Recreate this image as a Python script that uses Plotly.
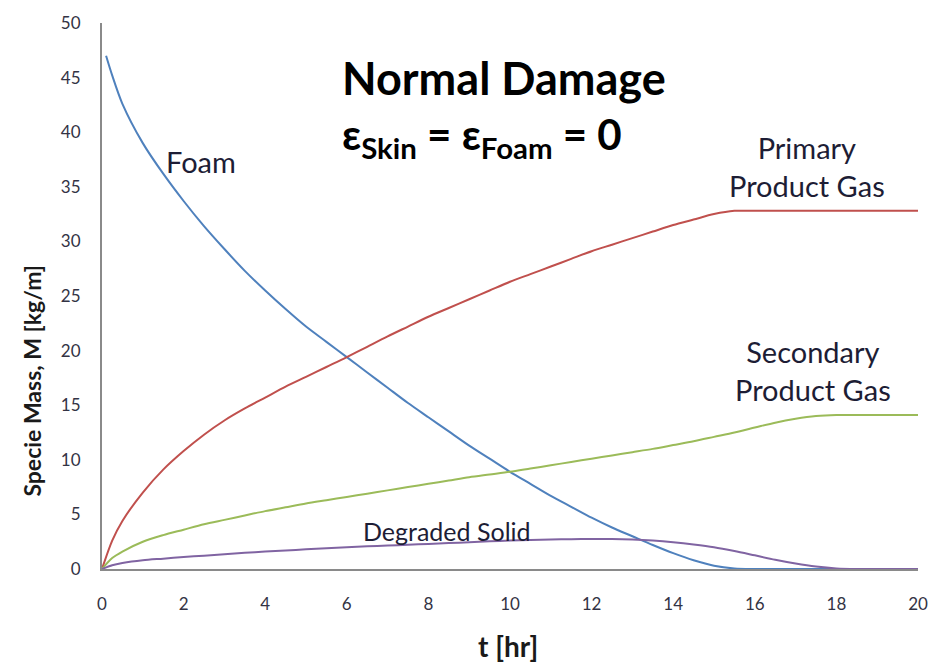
import plotly.graph_objects as go

# Time grid [hr] and species mass per unit length [kg/m]
t_foam = [0.1, 0.25, 0.5, 1, 1.5, 2, 2.5, 3, 3.5, 4, 4.5, 5, 5.5, 6, 6.5, 7, 7.5, 8, 8.5, 9, 9.5,
          10, 10.5, 11, 11.5, 12, 12.5, 13, 13.5, 14, 14.5, 15, 15.5, 16, 17, 18, 19, 20]
m_foam = [47.0, 45.2, 42.6, 39.0, 36.2, 33.7, 31.4, 29.3, 27.3, 25.5, 23.8, 22.2, 20.8, 19.4, 18.0,
          16.6, 15.2, 13.9, 12.6, 11.3, 10.1, 8.9, 7.8, 6.7, 5.7, 4.7, 3.8, 3.0, 2.2, 1.45, 0.8,
          0.3, 0.05, 0.0, 0.0, 0.0, 0.0, 0.0]

t_gas = [0, 0.25, 0.5, 1, 1.5, 2, 2.5, 3, 3.5, 4, 4.5, 5, 5.5, 6, 6.5, 7, 7.5, 8, 8.5, 9, 9.5,
         10, 10.5, 11, 11.5, 12, 12.5, 13, 13.5, 14, 14.5, 15, 15.5, 16, 16.5, 17, 17.5, 18,
         18.5, 19, 20]
m_primary = [0, 2.6, 4.4, 7.0, 9.1, 10.8, 12.3, 13.6, 14.7, 15.7, 16.7, 17.6, 18.5, 19.4, 20.35,
             21.3, 22.2, 23.1, 23.9, 24.7, 25.5, 26.3, 27.0, 27.7, 28.4, 29.1, 29.7, 30.3, 30.9,
             31.5, 32.0, 32.5, 32.8, 32.8, 32.8, 32.8, 32.8, 32.8, 32.8, 32.8, 32.8]
m_secondary = [0, 1.0, 1.6, 2.5, 3.1, 3.6, 4.1, 4.5, 4.9, 5.3, 5.65, 6.0, 6.3, 6.6, 6.9, 7.2,
               7.5, 7.8, 8.1, 8.4, 8.65, 8.9, 9.2, 9.5, 9.8, 10.1, 10.4, 10.7, 11.0, 11.35, 11.7,
               12.1, 12.5, 12.95, 13.4, 13.75, 14.0, 14.1, 14.1, 14.1, 14.1]
m_degraded = [0, 0.35, 0.55, 0.8, 0.95, 1.1, 1.22, 1.35, 1.48, 1.6, 1.7, 1.8, 1.9, 2.0, 2.08,
              2.15, 2.22, 2.3, 2.38, 2.45, 2.53, 2.6, 2.65, 2.7, 2.73, 2.75, 2.75, 2.7, 2.6,
              2.45, 2.25, 2.0, 1.65, 1.25, 0.85, 0.5, 0.22, 0.05, 0.0, 0.0, 0.0]

x_ticks = list(range(0, 21, 2))
y_ticks = list(range(0, 51, 5))

series = [
    (t_foam, m_foam, "#4f81bd"),
    (t_gas, m_primary, "#c0504d"),
    (t_gas, m_secondary, "#9bbb59"),
    (t_gas, m_degraded, "#8064a2"),
]

fig = go.Figure()
for tx, my, color in series:
    fig.add_trace(go.Scatter(x=tx, y=my, mode="lines",
                             line=dict(color=color, width=2, shape="spline", smoothing=0.8),
                             showlegend=False, hoverinfo="skip"))

label_font = dict(family="Lato", size=29, color="#1d1d35")
fig.add_annotation(x=2.42, y=37.3, text="Foam", showarrow=False, font=label_font)
fig.add_annotation(x=17.28, y=36.9, text="Primary<br>Product Gas", showarrow=False, font=label_font)
fig.add_annotation(x=17.43, y=18.2, text="Secondary<br>Product Gas", showarrow=False, font=label_font)
fig.add_annotation(x=8.45, y=3.5, text="Degraded Solid", showarrow=False,
                   font=dict(family="Lato", size=25, color="#1d1d35"))

fig.add_annotation(x=5.83, y=45.0, xanchor="left", text="<b>Normal Damage</b>", showarrow=False,
                   font=dict(family="Lato", size=45, color="black"))
fig.add_annotation(x=5.83, y=39.6, xanchor="left",
                   text="<b>ε<sub>Skin</sub> = ε<sub>Foam</sub> = 0</b>", showarrow=False,
                   font=dict(family="Lato", size=42, color="black"))

fig.add_annotation(xref="paper", yref="paper", x=-0.0858, y=0.345, textangle=-90,
                   xanchor="center", yanchor="middle",
                   text="<b>Specie Mass, M [kg/m]</b>", showarrow=False,
                   font=dict(family="Lato", size=23, color="#1a1a1a"))
fig.add_annotation(xref="paper", yref="paper", x=0.4975, y=-0.1405,
                   xanchor="center", yanchor="middle",
                   text="<b>t [hr]</b>", showarrow=False,
                   font=dict(family="Lato", size=28, color="#1a1a1a"))

tick_font = dict(family="Lato", size=17, color="#333344")
fig.update_xaxes(range=[0, 20], tickvals=x_ticks, showgrid=False, zeroline=False,
                 showline=True, linecolor="#8a8a8a", linewidth=2,
                 ticks="outside", ticklen=19, tickcolor="rgba(0,0,0,0)",
                 tickfont=tick_font)
fig.update_yaxes(range=[0, 50], tickvals=y_ticks, showgrid=False, zeroline=False,
                 showline=True, linecolor="#8a8a8a", linewidth=2,
                 ticks="outside", ticklen=16, tickcolor="rgba(0,0,0,0)",
                 tickfont=tick_font)

fig.update_layout(width=941, height=662, plot_bgcolor="white", paper_bgcolor="white",
                  margin=dict(l=102, r=23, t=14, b=93))

fig.write_html("out.html")
